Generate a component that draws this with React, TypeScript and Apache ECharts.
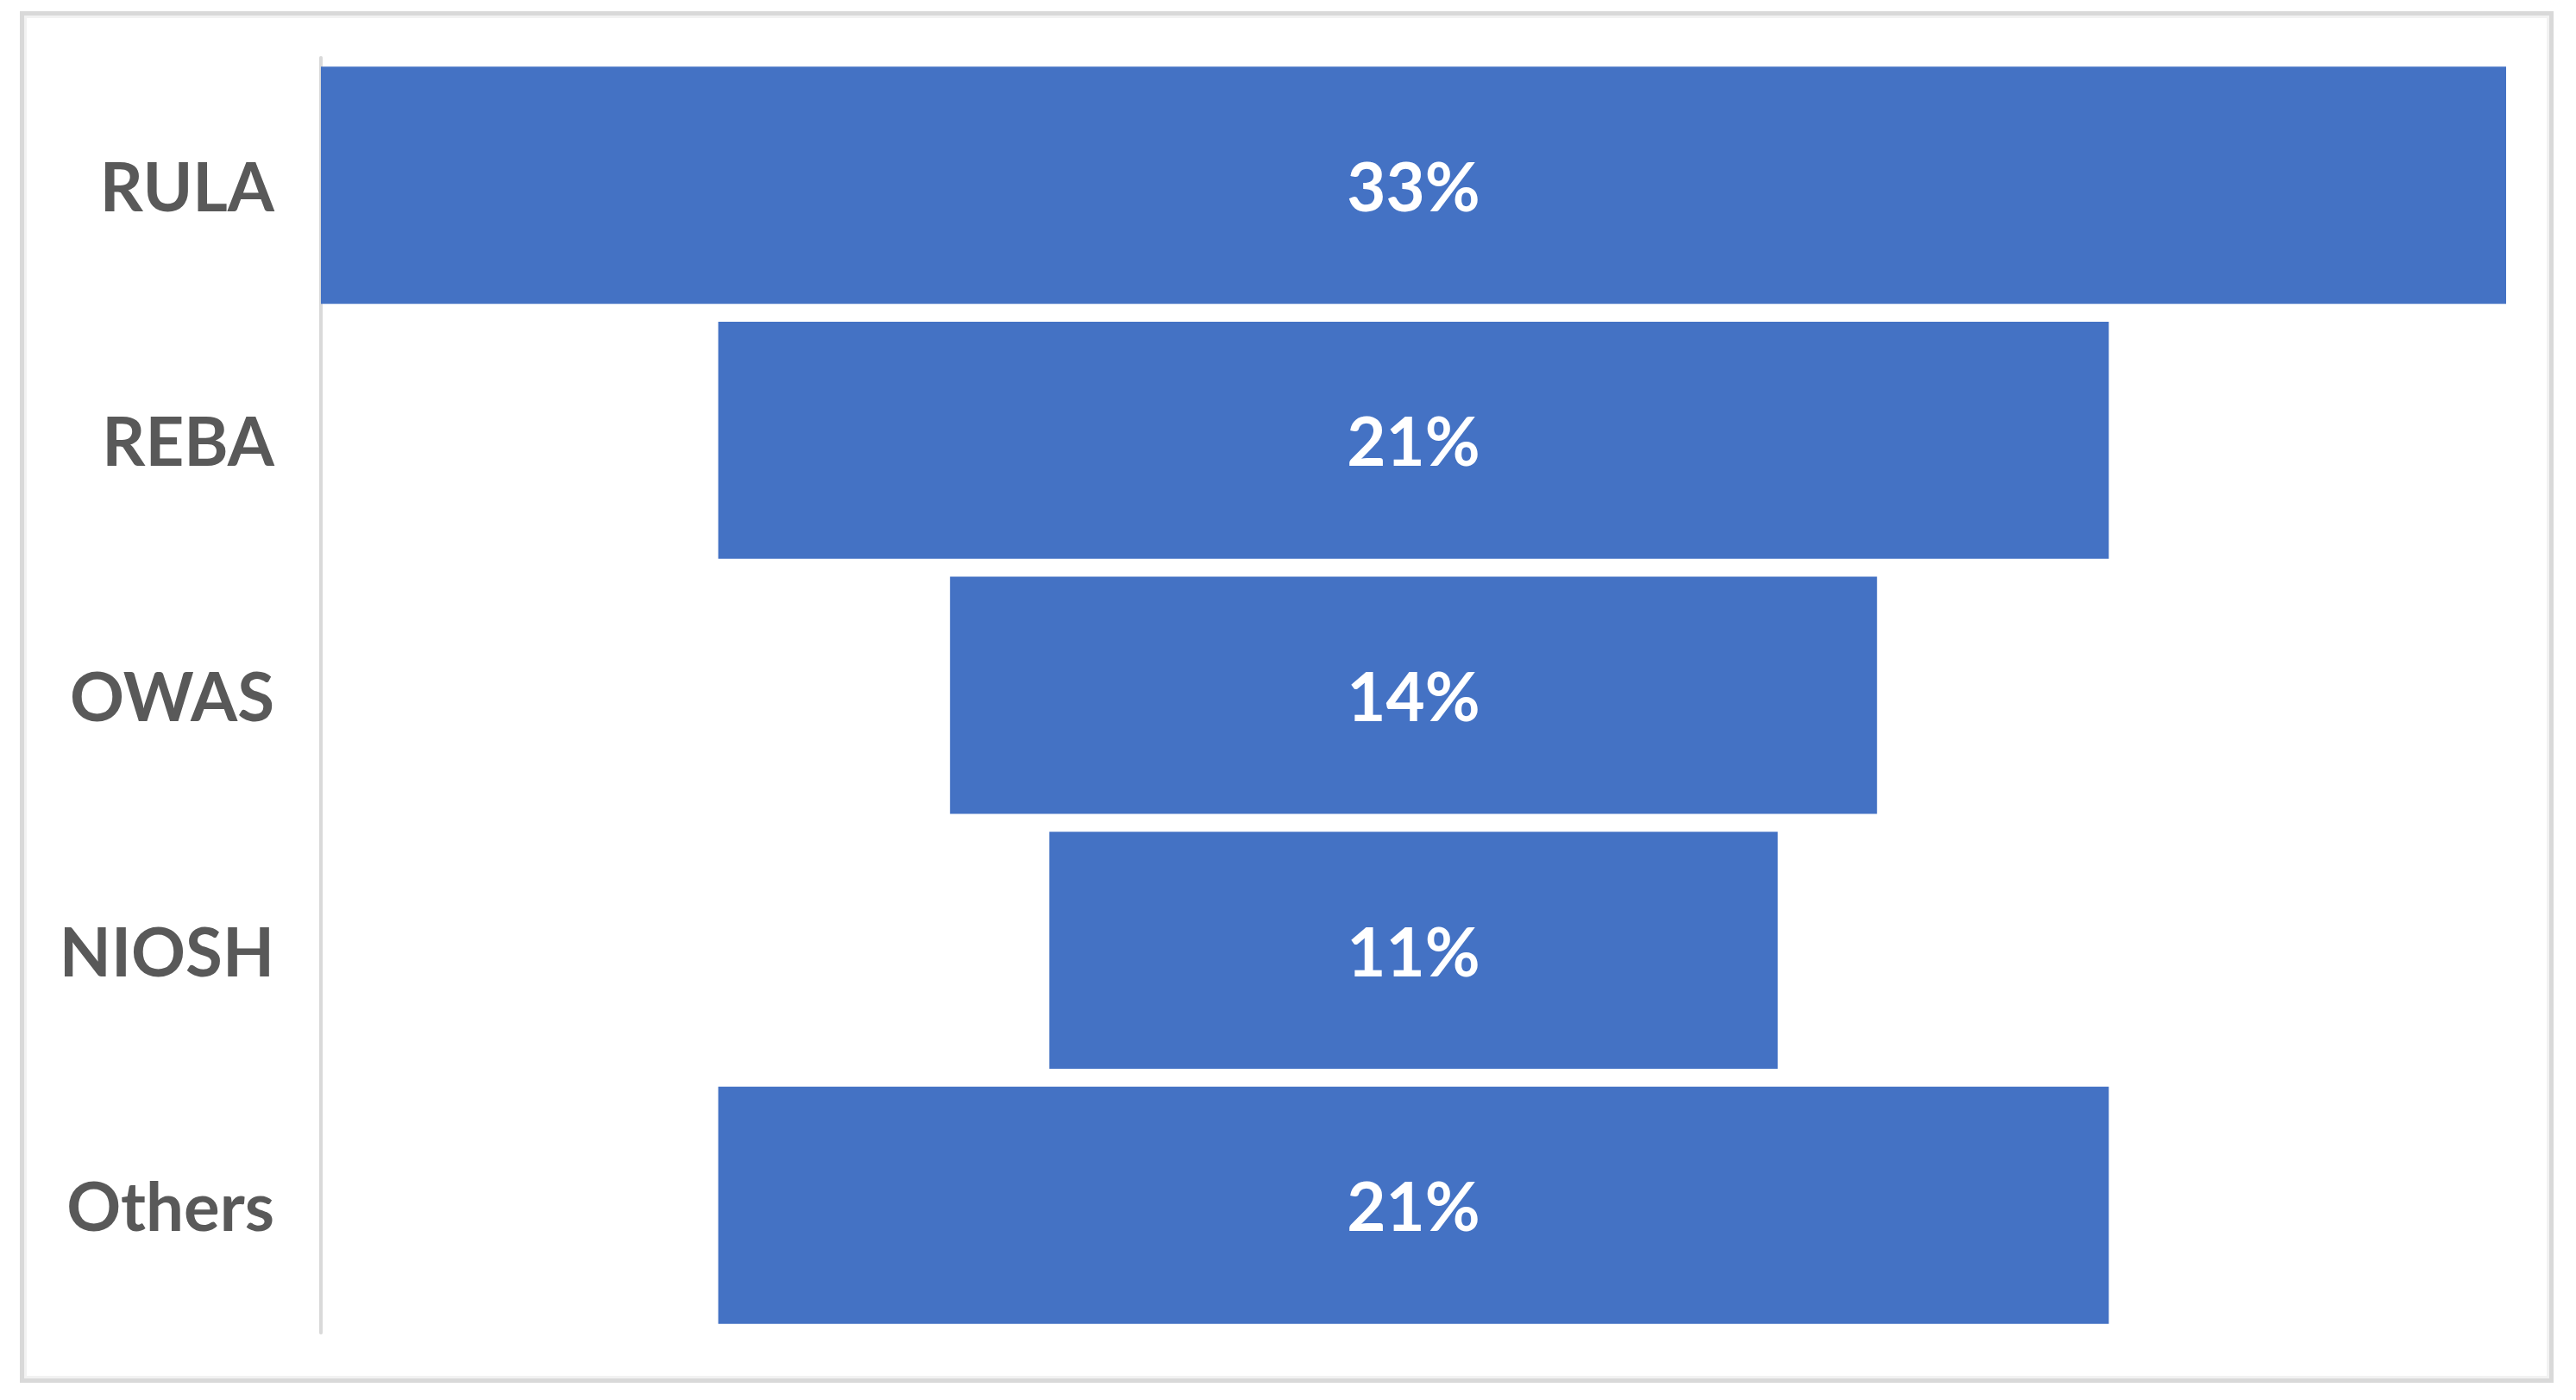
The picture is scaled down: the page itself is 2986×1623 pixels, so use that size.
import React, { useEffect, useRef } from "react";
import * as echarts from "echarts";

const categories = ["RULA", "REBA", "OWAS", "NIOSH", "Others"];
const values = [33, 21, 14, 11, 21];
const maxValue = 33;

export default function App() {
  const ref = useRef<HTMLDivElement>(null);
  useEffect(() => {
    document.body.style.margin = "0";
    const chart = echarts.init(ref.current!, undefined, { renderer: "svg" });
    const offsets = values.map((v) => (maxValue - v) / 2);
    chart.setOption({
      animation: false,
      backgroundColor: "#ffffff",
      grid: { left: 372, right: 81, top: 67, bottom: 78 },
      xAxis: {
        type: "value",
        min: 0,
        max: maxValue,
        show: false,
      },
      yAxis: {
        type: "category",
        data: categories,
        inverse: true,
        axisLine: { show: true, lineStyle: { color: "#d9d9d9", width: 4 } },
        axisTick: { show: false },
        splitLine: { show: false },
        axisLabel: {
          color: "#595959",
          fontFamily: "Lato",
          fontWeight: "bold",
          fontSize: 78,
          margin: 54,
        },
      },
      graphic: [
        {
          type: "rect",
          shape: { x: 25.5, y: 15.5, width: 2932, height: 1585 },
          style: { fill: "none", stroke: "#d9d9d9", lineWidth: 5 },
          silent: true,
        },
        {
          type: "rect",
          shape: { x: 29.5, y: 19.5, width: 2924, height: 1577 },
          style: { fill: "none", stroke: "#f2f2f2", lineWidth: 3 },
          silent: true,
        },
      ],
      series: [
        {
          type: "bar",
          stack: "funnel",
          data: offsets,
          itemStyle: { color: "transparent" },
          barCategoryGap: "7%",
          silent: true,
        },
        {
          type: "bar",
          stack: "funnel",
          data: values,
          barCategoryGap: "7%",
          itemStyle: { color: "#4472C4" },
          label: {
            show: true,
            position: "inside",
            formatter: (p: any) => `${p.value}%`,
            color: "#ffffff",
            fontFamily: "Lato",
            fontWeight: "bold",
            fontSize: 78,
          },
        },
      ],
    });
    return () => chart.dispose();
  }, []);
  return (
    <div
      ref={ref}
      style={{ position: "absolute", left: 0, top: 0, width: 2986, height: 1623 }}
    />
  );
}
